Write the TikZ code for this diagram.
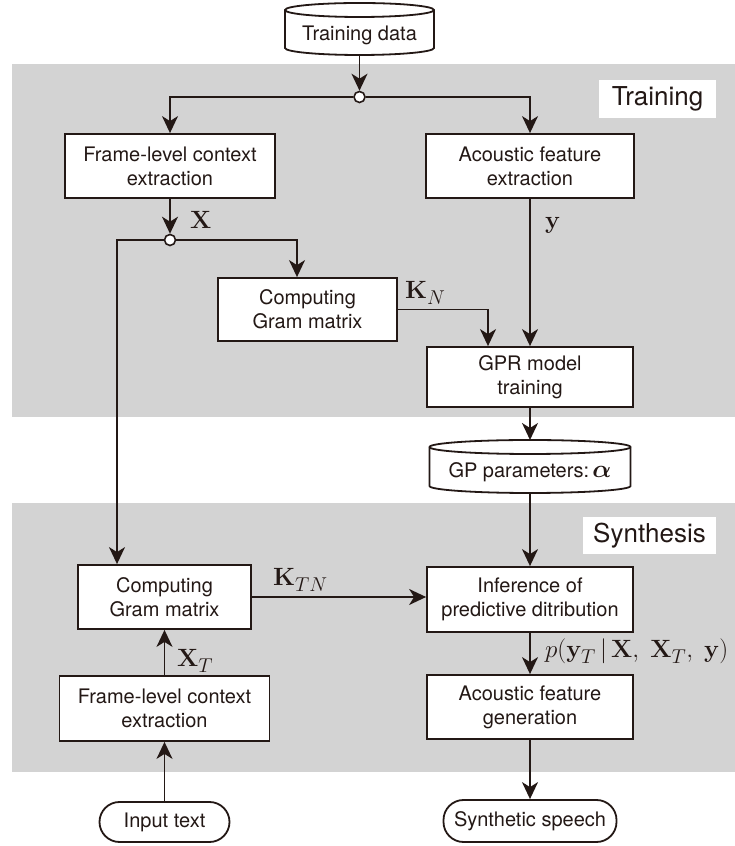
\RequirePackage{fix-cm}
\documentclass[tikz,border=0pt]{standalone}
\usepackage[no-math]{fontspec}
\usepackage{bm}
\newfontfamily\hv{TeX Gyre Heros}
\usetikzlibrary{arrows.meta,calc}
\definecolor{ink}{RGB}{35,24,21}
\definecolor{panel}{RGB}{211,211,211}
\DeclareMathSizes{25}{25}{20}{15}

% vertical database drum drawn around an empty node
\newcommand\drawdrum[3]{%
  \draw[ink, line width=1.8pt, fill=white]
    ([yshift=-#3]#1.north west) -- ([yshift=#3]#1.south west)
    arc[start angle=180, end angle=360, x radius=#2, y radius=#3]
    -- ([yshift=-#3]#1.north east)
    arc[start angle=0, end angle=180, x radius=#2, y radius=#3] -- cycle;
  \draw[ink, line width=1.8pt]
    ([yshift=-#3]#1.north west)
    arc[start angle=180, end angle=360, x radius=#2, y radius=#3];
}

\begin{document}
\begin{tikzpicture}[x=1pt, y=1pt,
  box/.style={draw=ink, line width=1.8pt, fill=white, text=ink, align=center,
    font=\hv\fontsize{20}{24}\selectfont, inner sep=0pt},
  terminal/.style={box, rounded corners=20pt},
  drum/.style={draw=none, inner sep=0pt, outer sep=0pt},
  drumtext/.style={text=ink, font=\hv\fontsize{20}{24}\selectfont, inner sep=0pt},
  tag/.style={fill=white, text=ink, font=\hv\fontsize{26}{30}\selectfont, inner sep=0pt},
  mlbl/.style={text=ink, font=\fontsize{25}{30}\selectfont, inner sep=0pt},
  junction/.style={circle, draw=ink, fill=white, line width=1.6pt,
    minimum size=11pt, inner sep=0pt},
  flow/.style={draw=ink, line width=1.8pt,
    -{Stealth[length=17pt, width=16pt, inset=5pt]}},
]
\useasboundingbox (0,0) rectangle (735,846);

% stage panels
\fill[panel] (12,429) rectangle (735,782);
\fill[panel] (12,74) rectangle (735,343);

\node[tag, minimum width=117pt, minimum height=38pt] (trtag) at (657.5,747) {Training};
\node[tag, minimum width=133pt, minimum height=37pt] (sytag) at (649.5,310.5) {Synthesis};

% data stores
\node[drum, minimum width=149pt, minimum height=52pt] (tdata) at (359.5,817) {};
\drawdrum{tdata}{74.5pt}{7pt}
\node[drumtext] (tdatatxt) at ([yshift=-6pt]tdata.center) {Training data};

\node[drum, minimum width=201pt, minimum height=53pt] (gpp) at (530,379.5) {};
\drawdrum{gpp}{100.5pt}{7pt}
\node[drumtext] (gpptxt) at ([yshift=-6pt]gpp.center)
  {GP parameters:\,{\fontsize{25}{30}\selectfont$\bm{\alpha}$}};

% processing blocks
\node[box, minimum width=210pt, minimum height=64pt] (ftr) at (170,680) {Frame-level context\\extraction};
\node[box, minimum width=208pt, minimum height=64pt] (aext) at (530,680) {Acoustic feature\\extraction};
\node[box, minimum width=179pt, minimum height=63pt] (gtr) at (307.5,536.5) {Computing\\Gram matrix};
\node[box, minimum width=206pt, minimum height=60pt] (gpr) at (530,469) {GPR model\\training};
\node[box, minimum width=173pt, minimum height=64pt] (gsy) at (164.5,249) {Computing\\Gram matrix};
\node[box, minimum width=206pt, minimum height=65pt] (inf) at (530,246.5) {Inference of\\predictive ditribution};
\node[box, minimum width=210pt, minimum height=65pt] (fsy) at (164.5,137.5) {Frame-level context\\extraction};
\node[box, minimum width=206pt, minimum height=64pt] (agen) at (530,139) {Acoustic feature\\generation};
\node[terminal, minimum width=130pt, minimum height=40pt] (inp) at (164.5,24) {Input text};
\node[terminal, minimum width=173pt, minimum height=42pt] (out) at (530,25) {Synthetic speech};

% branch points
\node[junction] (j1) at (359.5,749) {};
\node[junction] (j2) at (170,606) {};
\coordinate (lcol) at (117,0);
\coordinate (gcol) at (297,0);
\coordinate (kcol) at (488,0);

% connectors
\draw[flow] (tdata.south) -- (j1.north);
\draw[flow] (j1.west) -| (ftr.north);
\draw[flow] (j1.east) -| (aext.north);
\draw[flow] (ftr.south) -- (j2.north);
\draw[flow] (j2.west) -| (gsy.north -| lcol);
\draw[flow] (j2.east) -| (gtr.north -| gcol);
\draw[flow] (aext.south) -- (gpr.north);
\draw[flow] (gtr.east) -| (gpr.north -| kcol);
\draw[flow] (gpr.south) -- (gpp.north);
\draw[flow] (gpp.south) -- (inf.north);
\draw[flow] (gsy.east) -- (gsy.east -| inf.west);
\draw[flow] (inf.south) -- (agen.north);
\draw[flow] (agen.south) -- (out.north);
\draw[flow] (fsy.north) -- (gsy.south);
\draw[flow] (inp.north) -- (fsy.south);

% signal labels
\node[mlbl, anchor=base west] (lx) at (190,617) {$\mathbf{X}$};
\node[mlbl, anchor=base west] (ly) at (545,617) {$\mathbf{y}$};
\node[mlbl, anchor=base west] (lkn) at (405,547) {$\mathbf{K}_N$};
\node[mlbl, anchor=base west] (lktn) at (273,260) {$\mathbf{K}_{TN}$};
\node[mlbl, anchor=base west] (lxt) at (177,179) {$\mathbf{X}_T$};
\node[mlbl, anchor=base west] (lp) at (545,188)
  {$p(\mathbf{y}_T\,|\,\mathbf{X},\;\mathbf{X}_T,\;\mathbf{y})$};
\end{tikzpicture}
\end{document}
